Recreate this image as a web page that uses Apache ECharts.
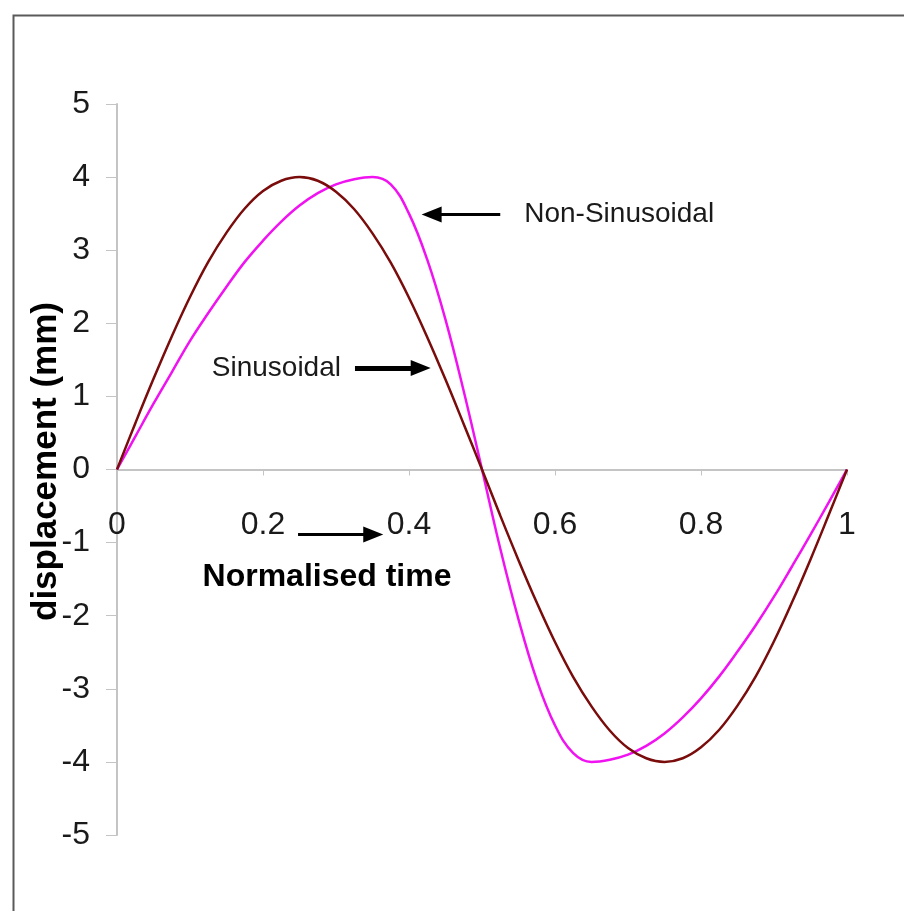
<!DOCTYPE html>
<html>
<head>
<meta charset="utf-8">
<script src="https://cdn.jsdelivr.net/npm/echarts@6/dist/echarts.min.js"></script>
<style>
html,body{margin:0;padding:0;background:#fff;}
#chart{width:904px;height:911px;}
</style>
</head>
<body>
<div id="chart"></div>
<script>
// Normalised time samples
var timeValues = [0,0.025,0.05,0.075,0.1,0.125,0.15,0.175,0.2,0.225,0.25,0.275,0.3,0.325,0.35,0.375,0.4,0.425,0.45,0.475,0.5,0.525,0.55,0.575,0.6,0.625,0.65,0.675,0.7,0.725,0.75,0.775,0.8,0.825,0.85,0.875,0.9,0.925,0.95,0.975,1];
// Sinusoidal displacement (mm)
var sinusoidal = [0,0.63,1.24,1.82,2.36,2.84,3.24,3.57,3.81,3.95,4.0,3.95,3.80,3.56,3.23,2.83,2.35,1.81,1.23,0.62,0,-0.63,-1.24,-1.82,-2.36,-2.84,-3.24,-3.57,-3.81,-3.95,-4.0,-3.95,-3.80,-3.56,-3.23,-2.83,-2.35,-1.81,-1.23,-0.62,0];
// Non-sinusoidal displacement (mm)
var nonSinusoidal = [0,0.45,0.90,1.33,1.76,2.14,2.50,2.84,3.13,3.39,3.61,3.78,3.90,3.97,4.0,3.90,3.50,2.87,2.05,1.07,0,-1.08,-2.05,-2.88,-3.50,-3.88,-4.0,-3.97,-3.90,-3.78,-3.61,-3.39,-3.13,-2.83,-2.49,-2.13,-1.74,-1.32,-0.89,-0.45,0];
// Axis ticks
var xTicks = [0,0.2,0.4,0.6,0.8,1];
var yTicks = [-5,-4,-3,-2,-1,0,1,2,3,4,5];
// Annotation arrows (data units): [x1, y1, x2, y2]
var arrowSinusoidal = [0.326, 1.39, 0.416, 1.39];
var arrowNonSinusoidal = [0.525, 3.49, 0.431, 3.49];
var arrowTime = [0.248, -0.89, 0.351, -0.89];

var FONT = "'Liberation Sans', Arial, Helvetica, sans-serif";
var GRID = {left: 117, right: 57, top: 104, bottom: 76};
var CHART_H = 911;

function pairs(xs, ys){ return xs.map(function(x,i){ return [x, ys[i]]; }); }

// pixel distance from grid bottom to the y = 0 line (x axis crosses at zero)
var plotH = CHART_H - GRID.top - GRID.bottom;
var zeroOffset = -plotH * (0 - yTicks[0]) / (yTicks[yTicks.length-1] - yTicks[0]);

var chart = echarts.init(document.getElementById('chart'), null, {renderer:'canvas'});
var option = {
  animation: false,
  backgroundColor: '#ffffff',
  graphic: [{
    type: 'rect',
    left: 11, top: 13,
    shape: {width: 905, height: 910},
    style: {fill: 'none', stroke: '#5a5a5a', lineWidth: 2},
    silent: true
  }],
  grid: {left: GRID.left, right: GRID.right, top: GRID.top, bottom: GRID.bottom, containLabel: false, outerBoundsMode: 'none'},
  xAxis: {
    type: 'value', min: xTicks[0], max: xTicks[xTicks.length-1], interval: 0.2,
    position: 'bottom',
    offset: zeroOffset,
    axisLine: {onZero: false, lineStyle: {color: '#c4c4c4', width: 2}},
    axisTick: {show: true, length: 6, lineStyle: {color: '#c4c4c4', width: 1}},
    axisLabel: {fontSize: 32, color: '#1a1a1a', fontFamily: FONT, margin: 40},
    splitLine: {show: false},
    name: 'Normalised time',
    nameLocation: 'middle',
    nameGap: 92,
    nameMoveOverlap: false,
    nameTextStyle: {fontSize: 32, fontWeight: 'bold', color: '#000', fontFamily: FONT, padding: [0, 310, 0, 0]}
  },
  yAxis: {
    type: 'value', min: yTicks[0], max: yTicks[yTicks.length-1], interval: 1,
    axisLine: {onZero: false, lineStyle: {color: '#c4c4c4', width: 2}},
    axisTick: {show: true, length: 11, lineStyle: {color: '#c4c4c4', width: 1}},
    axisLabel: {fontSize: 32, color: '#1a1a1a', fontFamily: FONT, margin: 27},
    splitLine: {show: false},
    name: 'displacement (mm)',
    nameLocation: 'middle',
    nameRotate: 90,
    nameGap: 53,
    nameMoveOverlap: false,
    nameTextStyle: {fontSize: 35, fontWeight: 'bold', color: '#000', fontFamily: FONT, padding: [0, 0, 0, 16]}
  },
  series: [{
    name: 'Sinusoidal',
    type: 'line',
    data: pairs(timeValues, sinusoidal),
    showSymbol: false,
    smooth: 0.4,
    lineStyle: {color: '#7a0c0c', width: 2.5},
    z: 3,
    markLine: {
      silent: true,
      symbol: ['none', 'triangle'],
      symbolSize: [16, 20],
      lineStyle: {type: 'solid', color: '#000'},
      itemStyle: {color: '#000'},
      label: {show: false},
      data: [
        [{coord: [arrowSinusoidal[0], arrowSinusoidal[1]], lineStyle: {width: 5, color: '#000'},
          label: {show: true, position: 'start', formatter: 'Sinusoidal', fontSize: 28, color: '#1a1a1a', fontFamily: FONT, distance: 14}},
         {coord: [arrowSinusoidal[2], arrowSinusoidal[3]]}],
        [{coord: [arrowNonSinusoidal[0], arrowNonSinusoidal[1]], lineStyle: {width: 3, color: '#000'},
          label: {show: true, position: 'start', formatter: 'Non-Sinusoidal', fontSize: 28, color: '#1a1a1a', fontFamily: FONT, distance: 24}},
         {coord: [arrowNonSinusoidal[2], arrowNonSinusoidal[3]]}],
        [{coord: [arrowTime[0], arrowTime[1]], lineStyle: {width: 3, color: '#000'}, label: {show: false}},
         {coord: [arrowTime[2], arrowTime[3]]}]
      ]
    }
  }, {
    name: 'Non-Sinusoidal',
    type: 'line',
    data: pairs(timeValues, nonSinusoidal),
    showSymbol: false,
    smooth: 0.4,
    lineStyle: {color: '#f012f0', width: 2.5},
    z: 2
  }]
};
chart.setOption(option);
</script>
</body>
</html>
